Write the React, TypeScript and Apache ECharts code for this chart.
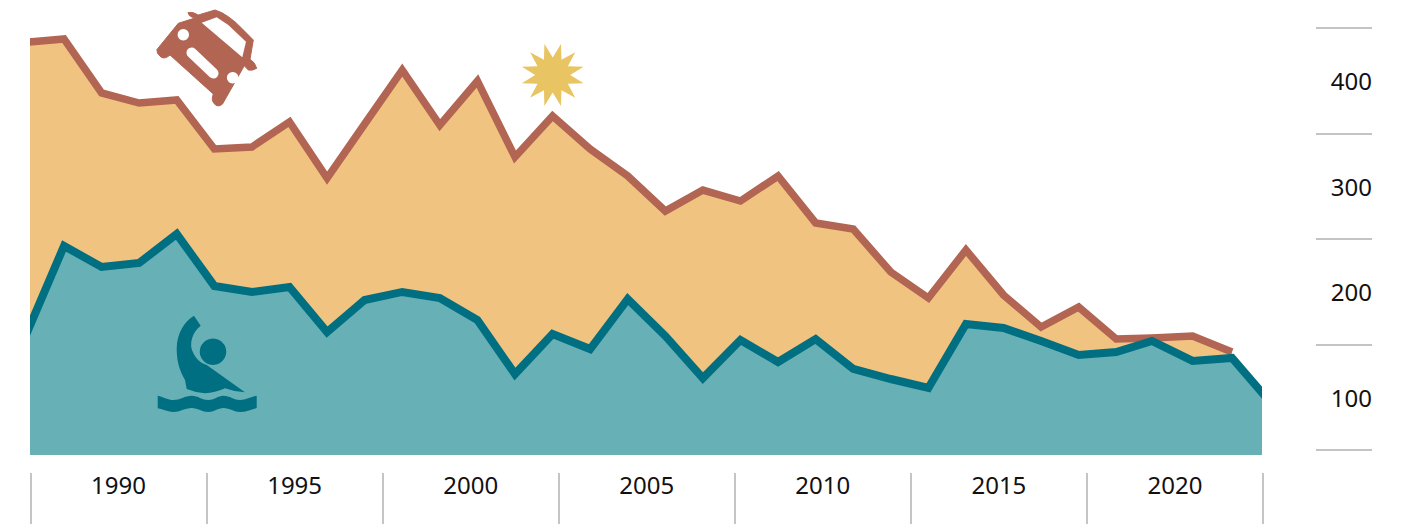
import React, { useEffect, useRef } from "react";
import * as echarts from "echarts";

const years = [1990,1991,1992,1993,1994,1995,1996,1997,1998,1999,2000,2001,2002,2003,2004,2005,2006,2007,2008,2009,2010,2011,2012,2013,2014,2015,2016,2017,2018,2019,2019.95,2021.03,2022.08,2023];
const upper = [386.4,389.6,338.4,328.9,331.8,285.3,287.2,310.9,257.8,309,360.2,308,349.8,277.7,316.6,285.3,259.7,226.5,246.4,236,259.7,215.2,209.5,168.7,144.1,189.6,146.9,116.6,135.5,105.2,106.2,108,92.9,null];
const lower = [110,193.4,173.5,177.3,204.7,155.5,149.8,154.5,111.8,142.2,149.8,144.1,123.2,72,110,95.7,143.1,108.1,68.2,104.3,83.4,105.2,76.8,67.3,58.8,119.4,115.6,103.3,90,92.9,103.3,84.4,87.2,49.3];
const xBandLabels = ["1990","1995","2000","2005","2010","2015","2020"];
const yBandLabels = ["100","200","300","400"];

const FONT = "Noto Sans";
const TICK = "#b0b0b2";

const carD = "M188 12.5 Q193 11.5 198.3 15 L215 10 Q222 12 228.3 16.7 Q236 22 241.7 28.3 L253.3 40 L250 59.3 Q255 62 256.7 68.3 Q252 71 248.3 70 L244.3 65.7 L222.5 104 Q218 108 214 103.5 Q211 100 213.3 94 L170 55 Q165 59.5 161 57 Q156 53 157 49.5 L178.3 23.3 L195 18 Q189 17 188 12.5 Z";
const swimmerD = "M194 315.7 L200.7 325.7 C191 333 190 345 192 350 C195 358 200 363 206.7 365 L245 392.3 Q235 392 225 388.3 Q215 393 205 393.3 Q195 392.5 186.7 389 L185 380 C178 368 176.7 358 176.7 348.3 C177 333 184 322 194 315.7 Z";
const waveD = "M157.7 395.7 C164 397 168 400 173.3 400 C180 400 185 395.7 191.7 395.7 C198 395.7 202 400 208.3 400 C214 400 218 395.7 223.3 395.7 C230 395.7 234 400 240 400 C246 400 251 397 256.7 395.7 L256.7 408 C251 409.5 246 412 240 412 C234 412 230 408 223.3 408 C218 408 214 412 208.3 412 C202 412 198 408 191.7 408 C185 408 180 412 173.3 412 C168 412 164 409.5 157.7 408.3 Z";

echarts.graphic.registerShape("carBody", echarts.graphic.extendPath(carD, {}) as any);
echarts.graphic.registerShape("swimmerBody", echarts.graphic.extendPath(swimmerD, {}) as any);
echarts.graphic.registerShape("waveBand", echarts.graphic.extendPath(waveD, {}) as any);

const sunPoints: number[][] = [];
for (let i = 0; i < 24; i++) {
  const a = ((15 * i + 15) * Math.PI) / 180;
  const r = i % 2 === 0 ? 32 : 17.5;
  sunPoints.push([552.7 + r * Math.cos(a), 75 + r * Math.sin(a)]);
}

export default function App() {
  const ref = useRef<HTMLDivElement>(null);
  useEffect(() => {
    const chart = echarts.init(ref.current!, undefined, { renderer: "svg" });
    const toPairs = (arr: (number | null)[]) => arr.map((v, i) => [years[i], v]);
    chart.setOption({
      animation: false,
      backgroundColor: "#fff",
      grid: [
        { left: 30, right: 140, top: 28, bottom: 69 },
        { left: 30.5, right: 139, top: 440, bottom: 51 },
        { left: 1200, right: 30, top: 28, bottom: 74 },
      ],
      xAxis: [
        { type: "value", gridIndex: 0, min: 1990.095, max: 2022.878, show: false },
        {
          type: "category",
          gridIndex: 1,
          data: xBandLabels,
          boundaryGap: true,
          axisLine: { show: false, onZero: false },
          axisTick: { show: true, length: 51, alignWithLabel: false, lineStyle: { color: TICK, width: 1.5 } },
          axisLabel: { margin: -1, interval: 0, fontFamily: FONT, fontSize: 24, color: "#111" },
        },
        { type: "value", gridIndex: 2, show: false },
      ],
      yAxis: [
        { type: "value", gridIndex: 0, min: -4.74, max: 400, show: false },
        { type: "value", gridIndex: 1, show: false },
        {
          type: "category",
          gridIndex: 2,
          position: "right",
          data: yBandLabels,
          boundaryGap: true,
          axisLine: { show: false, onZero: false },
          axisTick: { show: true, inside: true, length: 56, alignWithLabel: false, lineStyle: { color: TICK, width: 1.5 } },
          axisLabel: { inside: true, margin: 0, interval: 0, padding: [0, 0, 2, 0], fontFamily: FONT, fontSize: 24, color: "#111" },
        },
      ],
      series: [
        {
          type: "line",
          xAxisIndex: 0,
          yAxisIndex: 0,
          data: toPairs(upper),
          symbol: "none",
          clip: true,
          connectNulls: false,
          lineStyle: { color: "#b26552", width: 7.5, join: "miter" },
          areaStyle: { color: "#f0c381", opacity: 1, origin: "start" },
        },
        {
          type: "line",
          xAxisIndex: 0,
          yAxisIndex: 0,
          data: toPairs(lower),
          symbol: "none",
          clip: true,
          lineStyle: { color: "#006f82", width: 8, join: "miter" },
          areaStyle: { color: "#67b1b6", opacity: 1, origin: "start" },
        },
      ],
      graphic: [
        { type: "rect", z: 15, shape: { x: 18, y: 0, width: 12, height: 460 }, style: { fill: "#fff" } },
        { type: "rect", z: 15, shape: { x: 1262, y: 0, width: 12, height: 460 }, style: { fill: "#fff" } },
        { type: "carBody", z: 20, style: { fill: "#b26552", stroke: "#b26552", lineWidth: 1, lineJoin: "round" } },
        { type: "polygon", z: 21, shape: { points: [[201.7, 22.7], [216.7, 17.3], [228.3, 25], [246, 41.7], [242.3, 57.3]] }, style: { fill: "#fff" } },
        { type: "circle", z: 21, shape: { cx: 183.3, cy: 34.7, r: 5.7 }, style: { fill: "#fff" } },
        { type: "circle", z: 21, shape: { cx: 232.7, cy: 77.7, r: 5.8 }, style: { fill: "#fff" } },
        { type: "line", z: 21, shape: { x1: 191.7, y1: 52.7, x2: 213.3, y2: 73.3 }, style: { stroke: "#fff", lineWidth: 10.5, lineCap: "round" } },
        { type: "polygon", z: 20, shape: { points: sunPoints }, style: { fill: "#e9c462" } },
        { type: "swimmerBody", z: 20, style: { fill: "#006f82" } },
        { type: "circle", z: 20, shape: { cx: 213, cy: 351.7, r: 13.3 }, style: { fill: "#006f82" } },
        { type: "waveBand", z: 20, style: { fill: "#006f82" } },
      ],
    });
    return () => chart.dispose();
  }, []);
  return <div ref={ref} style={{ position: "fixed", left: 0, top: 0, width: 1402, height: 524 }} />;
}
